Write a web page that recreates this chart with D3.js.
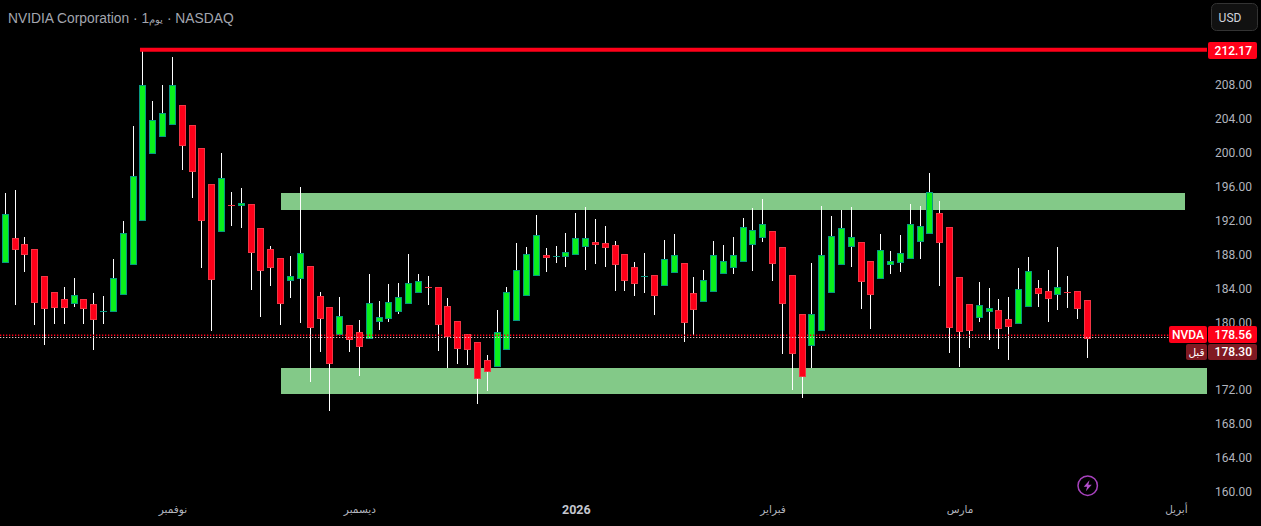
<!DOCTYPE html>
<html><head><meta charset="utf-8">
<script src="https://cdnjs.cloudflare.com/ajax/libs/d3/7.8.5/d3.min.js"></script>
<style>html,body{margin:0;padding:0;background:#000;overflow:hidden}svg{display:block}</style>
</head><body><svg id="c" width="1261" height="526"></svg>
<script>
const opens=[187.04,189.91,189.20,188.61,185.43,183.54,182.71,182.20,182.71,182.12,181.30,181.26,183.26,186.80,191.99,199.90,201.90,203.32,205.60,203.24,200.53,196.28,190.70,193.80,193.76,193.92,191.09,188.61,187.55,184.91,185.15,186.60,183.06,181.77,178.46,179.64,178.82,177.99,180.07,180.35,181.25,182.12,183.42,184.13,184.13,181.88,180.11,178.58,177.64,175.51,174.77,176.77,180.19,183.14,185.50,187.90,187.82,187.74,187.98,188.92,189.44,189.32,189.08,188.02,186.49,185.50,185.54,184.32,185.86,186.96,183.42,182.43,183.61,185.74,186.45,187.15,189.16,189.99,190.73,188.85,185.54,180.94,177.24,179.01,183.50,186.80,188.92,189.44,187.19,185.15,186.80,187.04,187.51,189.51,190.46,192.86,191.21,185.31,182.12,180.55,181.26,181.41,180.35,179.84,181.84,184.01,183.65,183.26,183.58,183.65,182.59];
const highs=[195.26,195.61,190.07,188.61,185.43,183.54,184.17,185.23,182.71,183.46,183.10,187.47,191.95,203.16,212.17,206.11,208.00,211.30,205.60,203.24,200.53,196.28,199.98,195.38,195.85,193.92,191.09,189.00,187.55,187.82,195.96,186.60,183.58,181.77,182.99,179.64,180.27,185.70,182.51,184.52,184.64,188.06,185.70,185.46,184.13,182.87,180.11,178.58,177.64,176.14,181.45,184.17,189.36,188.88,192.66,188.77,189.00,190.54,192.90,193.56,192.19,191.36,189.59,188.02,187.08,188.18,185.54,189.71,190.42,186.96,185.35,186.17,189.59,189.12,190.06,192.31,193.49,194.55,190.73,188.85,185.54,180.94,187.00,193.72,192.54,193.25,193.60,189.44,187.19,190.42,188.41,190.30,193.96,193.72,197.62,194.31,191.21,185.31,182.12,184.76,184.05,182.75,182.99,186.41,187.71,184.99,186.17,188.88,185.46,183.65,182.59];
const lows=[187.04,182.04,185.94,179.68,177.32,179.80,179.80,181.81,179.80,176.73,179.80,181.26,183.26,186.80,191.99,199.90,201.90,203.32,197.97,194.67,186.41,178.98,190.70,191.36,191.13,183.81,180.63,184.28,179.68,182.87,179.92,173.00,176.50,169.57,178.46,176.50,173.70,177.99,179.09,180.04,180.98,182.12,183.42,182.04,176.61,174.61,175.08,174.96,170.36,171.89,174.77,176.77,180.19,183.14,185.50,185.94,187.00,186.52,187.98,186.17,186.88,186.52,183.69,183.69,183.10,183.46,180.86,184.32,185.86,177.68,178.50,182.43,183.61,185.74,185.70,187.15,186.05,189.47,184.87,176.26,172.01,171.07,174.61,179.01,183.50,186.80,186.52,181.57,179.21,185.15,185.70,185.94,187.51,187.47,190.46,184.28,176.38,174.73,176.97,180.04,177.91,176.85,175.55,179.84,181.84,181.81,180.04,181.45,181.69,180.39,175.79];
const closes=[192.74,188.57,187.98,182.32,181.61,181.73,181.73,183.18,181.61,180.31,181.30,185.19,190.50,197.22,207.96,203.83,204.66,207.96,200.84,197.77,191.99,185.03,196.99,193.78,194.04,188.22,186.09,186.45,182.20,185.42,188.14,179.37,180.43,175.12,180.70,177.95,177.12,182.24,180.59,182.36,182.95,184.60,184.83,184.11,179.72,178.30,176.89,176.77,173.35,174.18,178.82,183.54,186.13,188.02,190.26,187.63,187.82,188.26,189.91,189.91,189.16,188.81,186.80,184.91,184.56,185.50,183.14,187.43,187.90,179.96,181.49,184.95,187.90,187.19,187.90,191.21,190.85,191.56,186.92,182.20,176.30,173.59,180.94,187.90,190.14,191.09,190.03,184.79,183.26,188.49,187.19,188.14,191.56,191.32,195.33,189.40,179.37,178.90,179.01,182.00,181.65,179.25,179.48,183.89,186.01,183.38,182.79,184.13,183.56,181.61,178.07];
const yTicks=[160,164,168,172,180,184,188,192,196,200,204,208];
const monthIdx=[17,36,58,78,97,119];
const monthLabels=["نوفمبر","ديسمبر","2026","فبراير","مارس","أبريل"];
const topZone=[195.26,193.25,28.08,119.9];
const botZone=[174.61,171.54,28.08,122.2];
const athValue=212.17, athIndex=13.7;
const lastPrice=178.56, extPrice=178.30;

const FONT='Roboto, "Liberation Sans", sans-serif';
const AR='"DejaVu Sans", sans-serif';
const UP='#0af01c',UPB='#089981',DN='#ff0019',DNB='#f23645';
const svg=d3.select('#c');
svg.append('rect').attr('width',1261).attr('height',526).attr('fill','#000');
const y=d3.scaleLinear().domain([208,160]).range([85,491.8]);
const x=d3.scaleLinear().domain([0,110]).range([5.2,1087.38]);
const col=i=>Math.floor(x(i));

// zones
[topZone,botZone].forEach(z=>{
  svg.append('rect').attr('x',Math.round(x(z[2]))).attr('y',Math.round(y(z[0])))
    .attr('width',Math.round(x(z[3]))-Math.round(x(z[2])))
    .attr('height',Math.round(y(z[1]))-Math.round(y(z[0]))).attr('fill','#83c988');
});

// candles
const data=d3.range(opens.length).map(i=>({i,o:opens[i],h:highs[i],l:lows[i],c:closes[i]}));
const g=svg.append('g').selectAll('g').data(data).join('g');
g.append('rect').attr('x',d=>col(d.i)).attr('width',1)
  .attr('y',d=>Math.round(y(d.h))).attr('height',d=>Math.max(1,Math.round(y(d.l))-Math.round(y(d.h))))
  .attr('fill','#fff');
g.each(function(d){
  const up=d.c>=d.o, top=Math.round(y(Math.max(d.o,d.c))), bot=Math.round(y(Math.min(d.o,d.c)));
  const s=d3.select(this), X=col(d.i)-3;
  if(Math.abs(d.o-d.c)<0.05){
    s.append('rect').attr('x',X).attr('y',top).attr('width',7).attr('height',1)
     .attr('fill',up?UPB:DNB);
    return;
  }
  s.append('rect').attr('x',X+.5).attr('y',top+.5).attr('width',6).attr('height',Math.max(1,bot-top-1))
   .attr('fill',up?UP:DN).attr('stroke',up?UPB:DNB).attr('stroke-width',1);
});

// price lines
svg.append('line').attr('x1',x(athIndex)).attr('x2',1207).attr('y1',y(athValue)).attr('y2',y(athValue))
  .attr('stroke',DN).attr('stroke-width',4);
svg.append('line').attr('x1',0).attr('x2',1207).attr('y1',337.5).attr('y2',337.5)
  .attr('stroke','#e8c0c4').attr('stroke-width',1).attr('stroke-dasharray','1.3 1.7');
svg.append('line').attr('x1',0).attr('x2',1207).attr('y1',335.3).attr('y2',335.3)
  .attr('stroke',DN).attr('stroke-width',1.5).attr('stroke-dasharray','1.3 1.7');

// axes
const ya=svg.append('g').attr('transform','translate(1216,0)')
  .call(d3.axisRight(y).tickValues(yTicks).tickSize(0).tickPadding(0).tickFormat(d3.format('.2f')));
ya.select('.domain').remove();
ya.selectAll('text').attr('fill','#b2b5be').attr('font-family',FONT).attr('font-size',12).attr('x',36).attr('text-anchor','end');
const xa=svg.append('g').attr('transform','translate(0,506)')
  .call(d3.axisBottom(x).tickValues(monthIdx).tickSize(0).tickPadding(0).tickFormat((d,i)=>monthLabels[i]));
xa.select('.domain').remove();
xa.selectAll('text').attr('fill','#b2b5be').attr('font-size',10.5).attr('font-family',AR).attr('y',0)
  .attr('dy','.71em');
xa.selectAll('text').filter((d,i)=>monthLabels[i]==='2026').attr('font-family',FONT).attr('font-weight',700).attr('font-size',12.5).attr('fill','#c4c6cf').attr('y',-1);

function tag(x0,x1,y0,y1,fill,text,font,size,tx,anchor){
  svg.append('rect').attr('x',x0).attr('y',y0).attr('width',x1-x0).attr('height',y1-y0).attr('rx',2).attr('fill',fill);
  svg.append('text').attr('x',tx===undefined?(x0+x1)/2:tx).attr('y',(y0+y1)/2+4.3).attr('text-anchor',anchor||'middle')
    .attr('fill','#fff').attr('font-family',font||FONT).attr('font-weight',500).attr('font-size',size||12).text(text);
}
tag(1208,1257,42,59,DN,athValue.toFixed(2),FONT,12,1252,'end');
tag(1169,1207,326,343,DN,'NVDA');
tag(1208,1257,326,343,DN,lastPrice.toFixed(2),FONT,12,1252,'end');
tag(1186,1207,344,360,'#801922','قبل',AR,10.5);
tag(1208,1257,344,360,'#801922',extPrice.toFixed(2),FONT,12,1252,'end');

// title
const t=svg.append('text').attr('x',8).attr('y',23).attr('fill','#a3a6af')
  .attr('font-family','"Liberation Sans", Arial, sans-serif').attr('font-size',13.8);
t.append('tspan').text('NVIDIA Corporation · 1');
t.append('tspan').attr('font-size',10).text('\u200Eيوم');
t.append('tspan').text(' · NASDAQ');

// currency button
svg.append('rect').attr('x',1211.5).attr('y',3.5).attr('width',46).attr('height',27).attr('rx',5)
  .attr('fill','#111').attr('stroke','#333').attr('stroke-width',1);
svg.append('text').attr('x',1230).attr('y',21.5).attr('text-anchor','middle').attr('fill','#d1d4dc')
  .attr('font-family',FONT).attr('font-weight',400).attr('font-size',12).text('USD');

// lightning badge
const b=svg.append('g').attr('transform','translate(1087.7,485.7)');
b.append('circle').attr('r',9.7).attr('fill','none').attr('stroke','#a742bd').attr('stroke-width',1.5);
b.append('path').attr('d','M1.8,-5.5 L-4,1 L-0.6,1 L-1.8,5.5 L4,-1 L0.6,-1 Z').attr('fill','#b34fcb');
</script></body></html>
